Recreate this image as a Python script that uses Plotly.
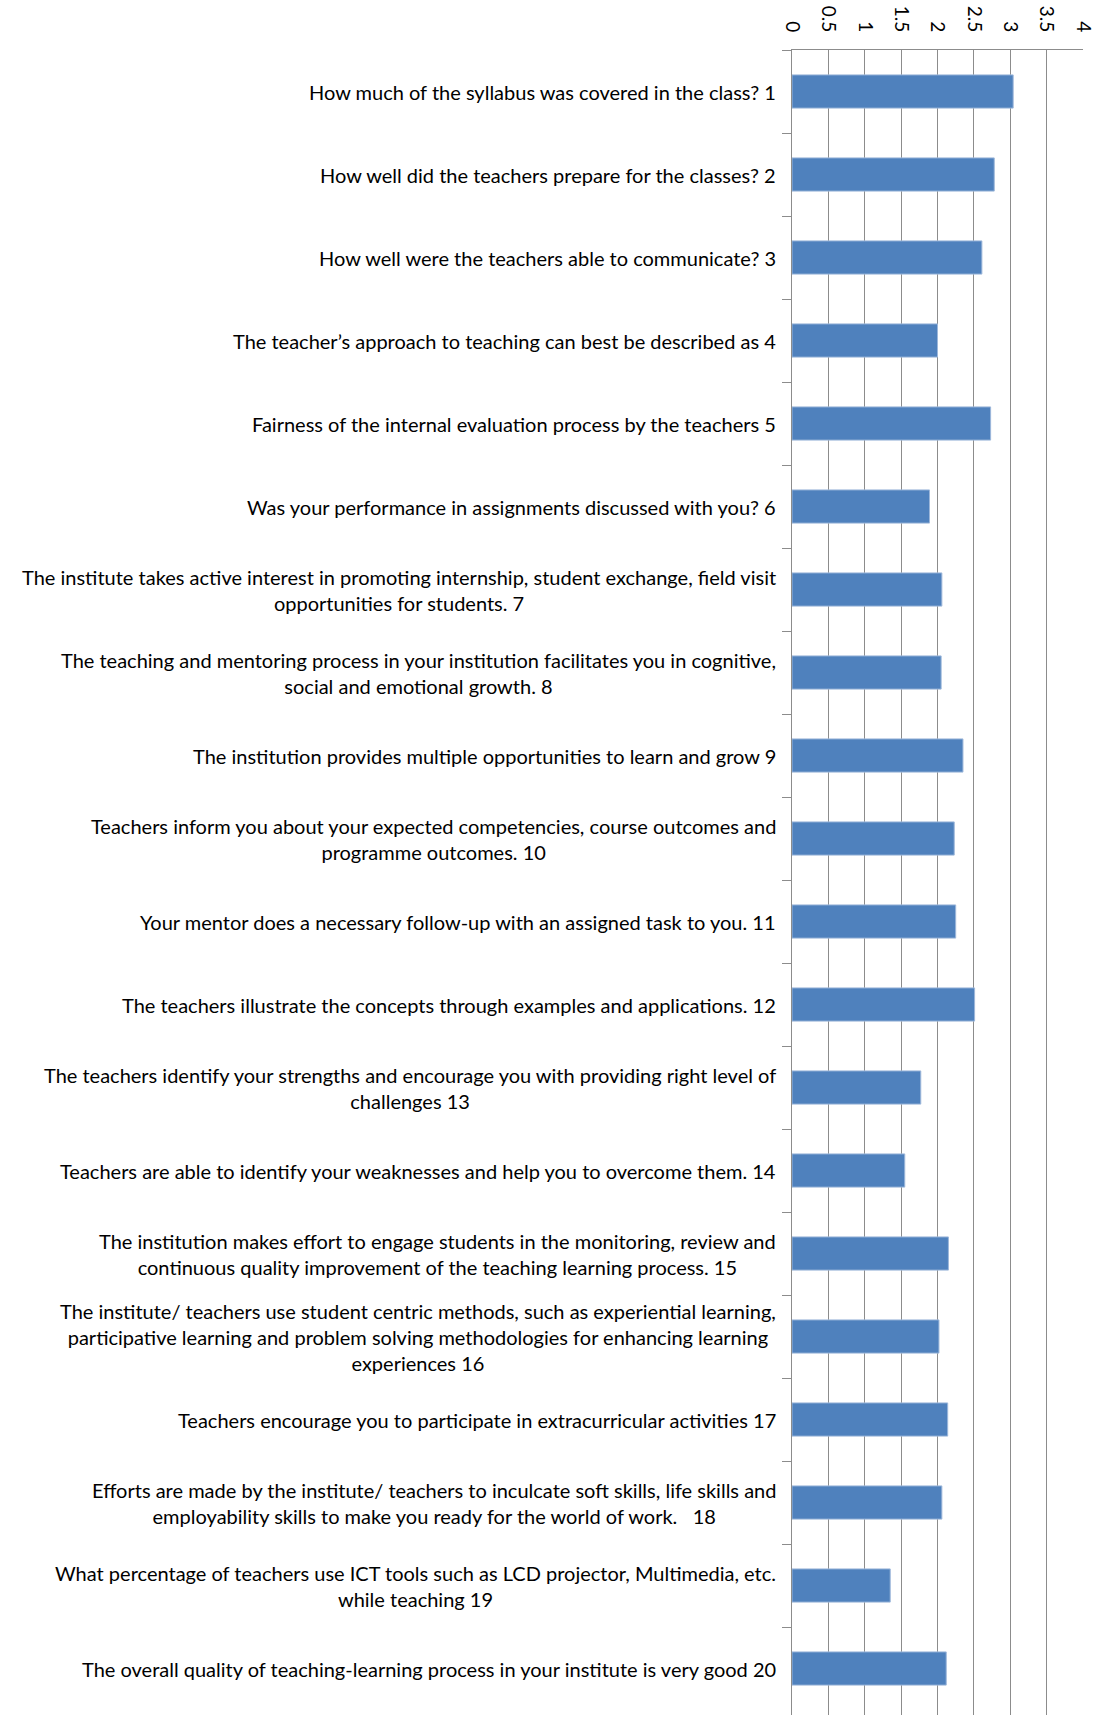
import plotly.graph_objects as go

questions = [
    "How much of the syllabus was covered in the class? 1",
    "How well did the teachers prepare for the classes? 2",
    "How well were the teachers able to communicate? 3",
    "The teacher\u2019s approach to teaching can best be described as 4",
    "Fairness of the internal evaluation process by the teachers 5",
    "Was your performance in assignments discussed with you? 6",
    "The institute takes active interest in promoting internship, student exchange, field visit<br>opportunities for students. 7",
    "The teaching and mentoring process in your institution facilitates you in cognitive,<br>social and emotional growth. 8",
    "The institution provides multiple opportunities to learn and grow 9",
    "Teachers inform you about your expected competencies, course outcomes and<br>programme outcomes. 10",
    "Your mentor does a necessary follow-up with an assigned task to you. 11",
    "The teachers illustrate the concepts through examples and applications. 12",
    "The teachers identify your strengths and encourage you with providing right level of<br>challenges 13",
    "Teachers are able to identify your weaknesses and help you to overcome them. 14",
    "The institution makes effort to engage students in the monitoring, review and<br>continuous quality improvement of the teaching learning process. 15",
    "The institute/ teachers use student centric methods, such as experiential learning,<br>participative learning and problem solving methodologies for enhancing learning<br>experiences 16",
    "Teachers encourage you to participate in extracurricular activities 17",
    "Efforts are made by the institute/ teachers to inculcate soft skills, life skills and<br>employability skills to make you ready for the world of work.\u00a0\u00a0 18",
    "What percentage of teachers use ICT tools such as LCD projector, Multimedia, etc.<br>while teaching 19",
    "The overall quality of teaching-learning process in your institute is very good 20",
]

scores = [3.04, 2.78, 2.61, 2.00, 2.73, 1.89, 2.06, 2.05, 2.35, 2.23,
          2.25, 2.51, 1.77, 1.55, 2.15, 2.02, 2.14, 2.06, 1.35, 2.12]

x_ticks = [0, 0.5, 1, 1.5, 2, 2.5, 3, 3.5, 4]
x_tick_text = ["0", "0.5", "1", "1.5", "2", "2.5", "3", "3.5", "4"]

FONT = "Lato"
GRID = "#8C8C8C"

fig = go.Figure(
    go.Bar(
        x=scores,
        y=questions,
        orientation="h",
        marker=dict(color="#4F81BD", line=dict(color="#9DB7DA", width=1)),
        width=0.4,
    )
)

annotations = [
    dict(
        text=q,
        x=0,
        xref="paper",
        y=q,
        yref="y",
        xanchor="right",
        yanchor="middle",
        xshift=-14,
        align="center",
        showarrow=False,
        font=dict(family=FONT, size=20, color="#000000"),
    )
    for q in questions
]

fig.update_layout(
    width=1096,
    height=1715,
    margin=dict(l=792, r=13, t=50, b=0),
    paper_bgcolor="white",
    plot_bgcolor="white",
    showlegend=False,
    annotations=annotations,
    xaxis=dict(
        side="top",
        range=[0, 4],
        tickvals=x_ticks,
        ticktext=x_tick_text,
        tickangle=90,
        showgrid=True,
        gridcolor=GRID,
        gridwidth=1,
        showline=True,
        linecolor=GRID,
        linewidth=1,
        ticks="",
        ticklabelstandoff=10,
        tickfont=dict(family=FONT, size=19, color="#000000"),
        zeroline=False,
    ),
    yaxis=dict(
        categoryorder="array",
        categoryarray=questions,
        range=[19.56, -0.5],
        showticklabels=False,
        ticks="outside",
        tickson="boundaries",
        ticklen=9,
        tickcolor=GRID,
        showline=True,
        linecolor=GRID,
        linewidth=1,
        showgrid=False,
        zeroline=False,
    ),
)

fig.write_html(
    "out.html",
    config={"displayModeBar": False},
    post_script="document.body.style.margin='0';document.body.style.overflow='hidden';",
)
